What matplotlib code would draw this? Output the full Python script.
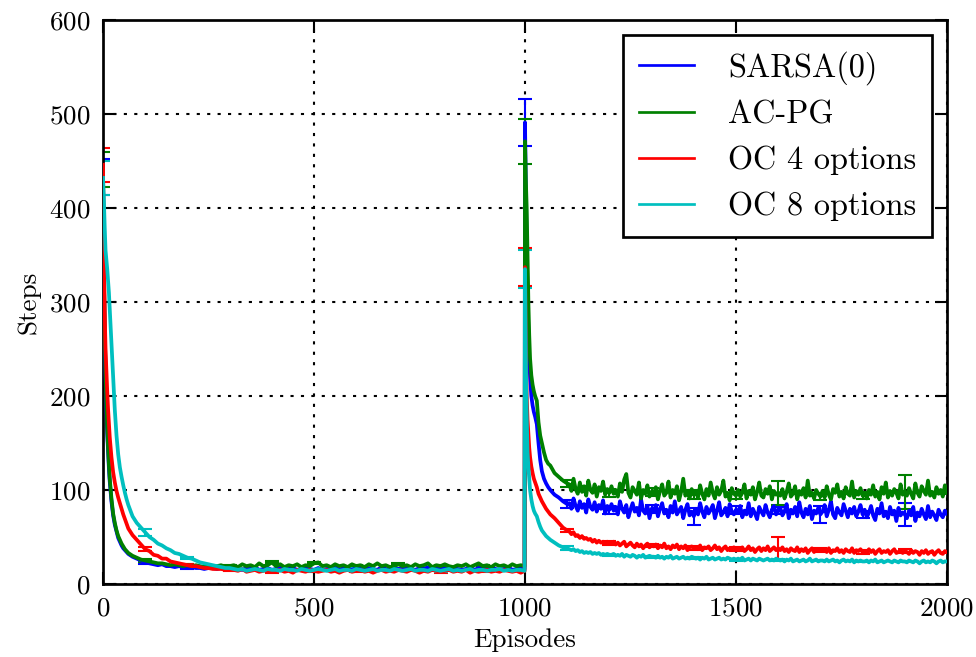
import matplotlib
matplotlib.use("Agg")
import matplotlib.pyplot as plt
import numpy as np

plt.rcParams['font.family'] = 'cmr10'
plt.rcParams['mathtext.fontset'] = 'cm'
plt.rcParams['axes.formatter.use_mathtext'] = True

episodes = np.concatenate([
    np.arange(0, 21, 2), np.arange(24, 61, 4), np.arange(70, 301, 10),
    np.arange(310, 1000, 10), [999],
    [1000, 1002, 1004, 1006, 1008, 1010, 1012, 1015, 1018, 1021, 1024, 1028,
     1032, 1036, 1040, 1045, 1050, 1055, 1060, 1070, 1080, 1090, 1100],
    np.arange(1105, 2000, 5), [1999],
])

sarsa = [
    433, 330, 270, 222, 186, 160, 141, 123, 109, 98, 88,
    73, 63, 56, 49, 45, 41, 38, 36, 34, 32,
    29, 27, 25, 23, 22, 21, 20, 21, 19, 19, 18, 19, 18, 17, 18, 17, 17, 16, 17, 17, 16, 17, 16, 17,
    17, 16, 15, 17, 16, 18, 15, 16, 17, 15,
    16, 18, 15, 16, 17, 15, 16, 18, 16, 15,
    17, 15, 16, 16, 18, 15, 17, 16, 15, 17,
    16, 15, 17, 16, 15, 18, 16, 15, 17, 16,
    15, 17, 16, 15, 17, 16, 18, 15, 16, 17,
    16, 15, 17, 16, 15, 16, 18, 15, 17, 16,
    15, 17, 16, 15, 16, 18, 15, 16, 17, 16,
    491, 420, 360, 310, 270, 240, 220, 200, 190, 183, 178, 170, 150, 132, 120, 112,
    107, 103, 100, 95, 92, 88, 85,
    86, 80, 91, 83, 78, 88, 81, 85, 76, 90, 82, 79, 87, 77, 84, 80, 89, 75, 83, 79,
    85, 78, 82, 74, 88, 80, 76, 84, 71, 79, 86, 77, 81, 73, 90, 78, 75, 83, 70, 80,
    77, 84, 72, 80, 86, 75, 79, 71, 83, 76, 88, 74, 78, 82, 70, 79, 85, 73, 77, 72,
    80, 74, 86, 77, 71, 82, 75, 79, 84, 70, 78, 87, 73, 76, 81, 72, 85, 77, 74, 79,
    76, 83, 71, 78, 74, 86, 72, 80, 75, 69, 82, 77, 73, 84, 76, 71, 79, 83, 74, 78,
    81, 73, 77, 85, 70, 79, 75, 82, 72, 87, 76, 71, 80, 74, 83, 69, 78, 75, 81, 74,
    77, 84, 72, 79, 88, 74, 70, 81, 76, 73, 85, 78, 71, 80, 75, 82, 72, 77, 84, 74,
    79, 71, 76, 83, 73, 68, 80, 75, 86, 72, 77, 70, 82, 74, 78, 67, 81, 73, 76, 74,
    70, 78, 73, 82, 67, 76, 72, 80, 74, 69, 83, 71, 77, 73, 68, 79, 74, 71, 78, 75,
]

acpg = [
    441, 340, 276, 228, 192, 166, 145, 127, 112, 101, 91,
    75, 65, 57, 51, 47, 43, 40, 37, 35, 33,
    30, 28, 26, 25, 24, 23, 22, 22, 21, 20, 21, 20, 19, 20, 19, 20, 19, 18, 20, 19, 19, 20, 18, 19,
    20, 18, 21, 19, 20, 18, 22, 19, 20, 23,
    19, 21, 18, 20, 19, 21, 18, 20, 19, 22,
    23, 19, 20, 18, 21, 19, 20, 18, 21, 19,
    20, 18, 21, 19, 22, 19, 20, 18, 19, 21,
    19, 20, 18, 21, 19, 20, 22, 18, 20, 19,
    21, 19, 18, 20, 19, 21, 18, 20, 22, 19,
    20, 18, 21, 19, 20, 18, 21, 19, 20, 19,
    471, 430, 400, 350, 300, 265, 240, 222, 212, 205, 200, 195, 172, 158, 150, 140,
    132, 128, 126, 118, 114, 110, 107,
    106, 99, 112, 101, 96, 108, 98, 104, 94, 110, 100, 97, 106, 93, 103, 99, 109, 95, 101, 97,
    104, 96, 100, 93, 107, 98, 111, 117, 97, 92, 103, 99, 95, 108, 91, 100, 96, 105, 93, 98,
    95, 103, 90, 99, 106, 94, 97, 109, 92, 100, 96, 104, 89, 98, 112, 94, 99, 91, 101, 95,
    98, 92, 105, 96, 90, 101, 94, 108, 97, 91, 103, 95, 99, 110, 93, 97, 89, 102, 96, 94,
    100, 93, 97, 106, 91, 99, 95, 103, 90, 98, 108, 94, 92, 101, 96, 104, 90, 99, 95, 97,
    94, 101, 91, 98, 107, 93, 96, 104, 90, 99, 95, 102, 92, 110, 94, 97, 91, 100, 96, 93,
    99, 92, 104, 95, 90, 101, 97, 106, 93, 98, 91, 103, 96, 94, 109, 92, 99, 95, 102, 94,
    97, 91, 100, 95, 105, 93, 98, 90, 103, 96, 108, 92, 99, 94, 101, 97, 91, 106, 95, 98,
    94, 102, 96, 91, 107, 97, 93, 104, 99, 95, 110, 94, 98, 92, 103, 96, 100, 93, 105, 97,
]

oc4 = [
    446, 350, 290, 250, 227, 205, 186, 170, 156, 146, 135,
    119, 108, 99, 92, 86, 80, 74, 69, 64, 59,
    52, 47, 42, 37, 35, 31, 30, 27, 27, 24, 23, 22, 21, 20, 19, 19, 18, 17, 17, 16, 16, 16, 15, 15,
    15, 14, 16, 13, 14, 15, 13, 14, 15, 13,
    14, 15, 13, 14, 12, 15, 14, 13, 15, 14,
    13, 14, 15, 13, 14, 12, 14, 15, 13, 14,
    15, 13, 14, 12, 14, 15, 13, 14, 13, 15,
    14, 13, 15, 14, 12, 14, 13, 15, 14, 13,
    14, 15, 13, 14, 13, 15, 12, 14, 13, 14,
    15, 13, 14, 13, 15, 14, 13, 14, 12, 14,
    337, 250, 200, 175, 160, 145, 135, 125, 118, 112, 108, 103, 96, 92, 88, 84,
    80, 77, 74, 70, 65, 60, 57,
    56, 53, 55, 51, 52, 49, 51, 48, 49, 47, 48, 45, 47, 44, 46, 44, 45, 43, 45, 44,
    43, 45, 42, 44, 41, 43, 45, 40, 42, 44, 41, 39, 43, 40, 42, 38, 41, 43, 39, 41,
    40, 42, 38, 41, 39, 43, 38, 40, 37, 41, 39, 42, 37, 40, 38, 41, 36, 39, 40, 38,
    39, 37, 41, 36, 39, 38, 40, 36, 38, 41, 37, 39, 35, 38, 40, 36, 38, 37, 39, 37,
    38, 36, 39, 35, 37, 40, 36, 38, 34, 37, 39, 35, 38, 36, 40, 35, 37, 39, 36, 38,
    36, 39, 35, 37, 34, 38, 36, 35, 39, 34, 37, 35, 38, 33, 36, 38, 34, 37, 35, 36,
    35, 37, 34, 38, 33, 36, 35, 38, 34, 36, 33, 37, 35, 34, 38, 33, 36, 35, 37, 34,
    35, 33, 37, 34, 36, 32, 35, 37, 33, 35, 34, 36, 32, 35, 37, 33, 34, 36, 33, 35,
    34, 32, 36, 33, 35, 34, 31, 35, 33, 36, 32, 34, 35, 31, 34, 36, 33, 32, 35, 34,
]

oc8 = [
    432, 410, 380, 355, 345, 335, 322, 310, 292, 274, 255,
    218, 185, 158, 138, 124, 114, 105, 97, 90, 84,
    72, 65, 60, 55, 50, 47, 43, 41, 38, 36, 33, 32, 30, 28, 27, 25, 23, 22, 21, 20, 19, 18, 17, 17,
    16, 15, 16, 14, 15, 16, 15, 14, 16, 15,
    15, 14, 16, 15, 15, 14, 16, 15, 14, 15,
    16, 15, 14, 15, 16, 14, 15, 15, 14, 16,
    15, 14, 15, 16, 14, 15, 15, 14, 16, 15,
    14, 15, 16, 14, 15, 15, 14, 16, 15, 14,
    15, 16, 14, 15, 14, 15, 16, 14, 15, 15,
    14, 15, 15, 16, 14, 15, 14, 15, 15, 14,
    335, 240, 180, 140, 125, 112, 100, 90, 83, 78, 75, 72, 66, 61, 57, 54,
    51, 49, 47, 44, 41, 39, 38,
    37, 36, 37, 35, 36, 34, 35, 33, 34, 33, 34, 32, 33, 32, 33, 31, 32, 31, 32, 31,
    31, 32, 30, 31, 30, 32, 29, 31, 30, 29, 31, 30, 28, 30, 29, 31, 28, 29, 30, 29,
    29, 28, 30, 28, 29, 27, 29, 28, 30, 27, 28, 29, 27, 28, 29, 27, 28, 27, 29, 28,
    27, 28, 26, 28, 27, 29, 26, 27, 28, 26, 27, 28, 26, 27, 26, 28, 27, 26, 27, 26,
    27, 26, 28, 25, 26, 27, 25, 27, 26, 25, 27, 26, 25, 26, 27, 25, 26, 25, 27, 26,
    25, 26, 24, 26, 25, 27, 24, 25, 26, 24, 25, 26, 24, 25, 27, 24, 25, 26, 24, 25,
    25, 24, 26, 24, 25, 26, 24, 25, 23, 25, 26, 24, 25, 24, 26, 23, 25, 24, 25, 24,
    24, 25, 23, 25, 24, 26, 23, 24, 25, 23, 24, 25, 24, 23, 25, 24, 23, 25, 24, 24,
    23, 25, 24, 23, 25, 24, 22, 24, 25, 23, 24, 23, 25, 24, 22, 24, 25, 23, 24, 24,
]

# standard errors shown every 100 episodes
err_episodes = list(range(0, 2000, 100))
sarsa_err = [19, 2, 1, 1, 1, 1, 1, 1, 1, 1, 25, 4, 4, 4, 9, 4, 4, 9, 4, 12]
acpg_err = [19, 2, 1, 1, 1, 1, 1, 1, 1, 1, 24, 4, 4, 4, 5, 4, 13, 4, 4, 18]
oc4_err = [18, 2, 1, 1, 1, 1, 1, 1, 1, 1, 20, 2, 2, 2, 2, 2, 12, 2, 2, 2]
oc8_err = [18, 4, 1, 1, 1, 1, 1, 1, 1, 1, 20, 2, 1, 1, 1, 1, 1, 1, 1, 1]

labels = ['SARSA(0)', 'AC-PG', 'OC 4 options', 'OC 8 options']
colors = ['#0000ff', '#008000', '#ff0000', '#00bfbf']

fig = plt.figure(figsize=(976 / 150, 657 / 150), dpi=150)
ax = fig.add_axes([103 / 976, 1 - 584 / 657, 844 / 976, 564 / 657])

ep_list = list(episodes)
for k, (vals, err, lab, c) in enumerate(zip([sarsa, acpg, oc4, oc8],
                                            [sarsa_err, acpg_err, oc4_err, oc8_err],
                                            labels, colors)):
    ax.plot(episodes, vals, color=c, lw=1.8, label=lab, zorder=3 + k)
    ymid = [vals[ep_list.index(e)] for e in err_episodes]
    ax.errorbar(err_episodes, ymid, yerr=err, fmt='none', ecolor=c,
                elinewidth=1.0, capsize=3.5, capthick=1.0, zorder=2)

ax.set_xlim(0, 2000)
ax.set_ylim(0, 600)
ax.set_xticks([0, 500, 1000, 1500, 2000])
ax.set_yticks(np.arange(0, 700, 100))
ax.tick_params(direction='in', length=6, width=1, top=True, right=True,
               labelsize=13, pad=6)
ax.grid(True, color='black', linestyle=(0, (1.5, 3.5)), linewidth=1.0)
for s in ax.spines.values():
    s.set_linewidth(1.3)
ax.set_xlabel('Episodes', fontsize=13)
ax.set_ylabel('Steps', fontsize=13)

leg = ax.legend(loc='upper right', fontsize=15.5, fancybox=False,
                edgecolor='black', framealpha=1, handlelength=1.7,
                handletextpad=1.05, labelspacing=0.5, borderpad=0.5,
                borderaxespad=0.45)
leg.get_frame().set_linewidth(1.3)
leg.set_zorder(10)
for line in leg.get_lines():
    line.set_linewidth(1.3)

fig.savefig('out.png', dpi=150, facecolor='white')
